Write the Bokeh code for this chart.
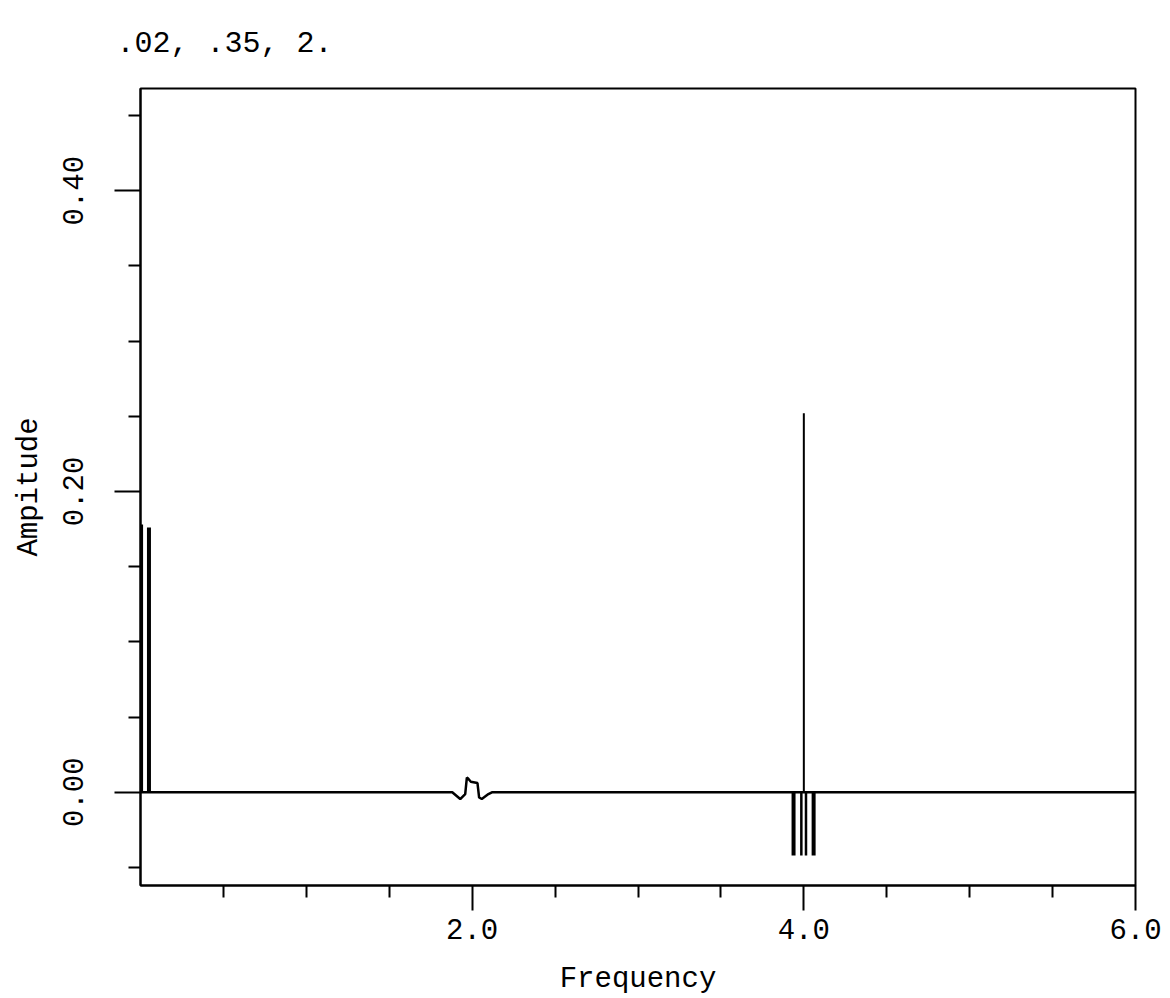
from bokeh.plotting import figure
from bokeh.models import Range1d, FixedTicker, NumeralTickFormatter, ColumnDataSource
from bokeh.embed import file_html
from bokeh.resources import INLINE

# ---- text ----
title_text = ".02, .35, 2."
x_label = "Frequency"
y_label = "Ampitude"

# ---- ticks ----
x_major_ticks = [2.0, 4.0, 6.0]
x_minor_ticks = [0.5, 1.0, 1.5, 2.5, 3.0, 3.5, 4.5, 5.0, 5.5]
y_major_ticks = [0.0, 0.2, 0.4]
y_minor_ticks = [-0.05, 0.05, 0.10, 0.15, 0.25, 0.30, 0.35, 0.45]

# ---- data ----
# baseline spectrum with the small feature near 2.0
curve_freq = [0.0, 1.880, 1.928, 1.958, 1.968, 1.978, 1.992, 2.032, 2.042, 2.058, 2.098, 2.119, 6.0]
curve_amp = [0.0, 0.0, -0.0045, -0.0012, 0.0098, 0.0088, 0.0070, 0.0061, -0.0035, -0.0045, -0.0012, 0.0, 0.0]

# positive spikes
spike_freq = [0.005, 0.051, 4.0]
spike_amp = [0.178, 0.176, 0.252]

# negative bars around 4.0
neg_freq = [3.938, 3.985, 4.013, 4.059]
neg_amp = [-0.042, -0.042, -0.042, -0.042]

# styles (kept separate from data)
spike_widths = [3.5, 4.0, 2.0]
neg_widths = [4.0, 2.5, 2.5, 4.0]

FONT = "Liberation Mono"
FS = "29px"

p = figure(width=1170, height=998,
           x_range=Range1d(0, 6), y_range=Range1d(-0.062, 0.468),
           output_backend="svg", toolbar_location=None,
           min_border_left=140, min_border_right=35,
           min_border_top=87, min_border_bottom=113,
           background_fill_color="white", border_fill_color="white")

p.grid.visible = False
p.outline_line_color = "black"
p.outline_line_width = 2
p.outline_line_alpha = 1.0

# title
p.title.text = title_text
p.title.text_font = FONT
p.title.text_font_size = "30px"
p.title.text_font_style = "normal"
p.title.text_color = "black"
p.title.align = "left"
p.title.vertical_align = "top"
p.title.offset = -24
p.title.standoff = 52

# axes common style
for ax in (p.xaxis[0], p.yaxis[0]):
    ax.axis_line_color = "black"
    ax.axis_line_width = 2
    ax.major_tick_line_color = "black"
    ax.major_tick_line_width = 2
    ax.minor_tick_line_color = "black"
    ax.minor_tick_line_width = 2
    ax.major_tick_in = 0
    ax.minor_tick_in = 0
    ax.major_label_text_font = FONT
    ax.major_label_text_font_size = FS
    ax.major_label_text_color = "black"
    ax.axis_label_text_font = FONT
    ax.axis_label_text_font_size = FS
    ax.axis_label_text_font_style = "normal"
    ax.axis_label_text_color = "black"

# x axis
xa = p.xaxis[0]
xa.ticker = FixedTicker(ticks=x_major_ticks, minor_ticks=x_minor_ticks)
xa.formatter = NumeralTickFormatter(format="0.0")
xa.axis_label = x_label
xa.major_tick_out = 25
xa.minor_tick_out = 12
xa.major_label_standoff = 8
xa.axis_label_standoff = 21

# y axis
ya = p.yaxis[0]
ya.ticker = FixedTicker(ticks=y_major_ticks, minor_ticks=y_minor_ticks)
ya.formatter = NumeralTickFormatter(format="0.00")
ya.axis_label = y_label
ya.major_label_orientation = "vertical"
ya.major_tick_out = 26
ya.minor_tick_out = 12
ya.major_label_standoff = 31
ya.axis_label_standoff = 15

# baseline curve
p.line(curve_freq, curve_amp, line_color="black", line_width=2.5)

# spikes
spikes = ColumnDataSource(dict(x=spike_freq, y0=[0.0] * len(spike_freq), y1=spike_amp, w=spike_widths))
p.segment(x0="x", y0="y0", x1="x", y1="y1", source=spikes, line_color="black", line_width="w")

negs = ColumnDataSource(dict(x=neg_freq, y0=[0.0] * len(neg_freq), y1=neg_amp, w=neg_widths))
p.segment(x0="x", y0="y0", x1="x", y1="y1", source=negs, line_color="black", line_width="w")

open("out.html", "w").write(file_html(p, INLINE))
